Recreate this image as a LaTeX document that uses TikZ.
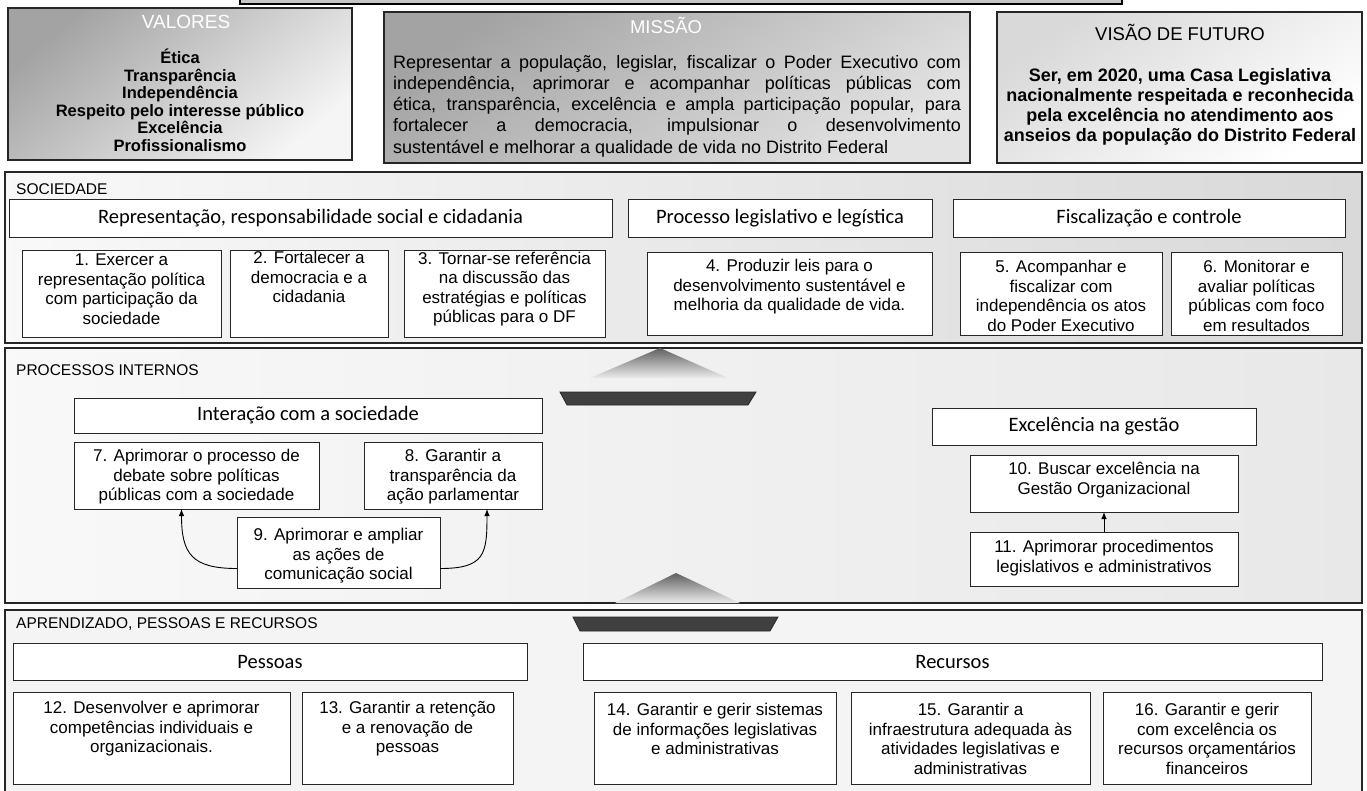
\documentclass[tikz,border=0pt]{standalone}
\usepackage{fontspec}
\setmainfont{Liberation Sans}
\newfontfamily\carlito{Carlito}
\usetikzlibrary{arrows.meta}
\newcommand\mybox[7]{\node[#6, anchor=north west, inner sep=0pt, outer sep=0pt, minimum width={(#4-#2)*1pt}, minimum height={(#5-#3)*1pt}] (#1) at (#2,#3) {#7};}
\begin{document}
\begin{tikzpicture}[x=1pt,y=-1pt,
 sec/.style={draw=black!85, line width=1.3pt},
 topbox/.style={draw=black!85, line width=1.1pt},
 hdr/.style={draw=black!85, fill=white, line width=1pt, font=\carlito\fontsize{20.5}{24}\selectfont},
 obj/.style={draw=black!85, fill=white, line width=1pt},
 otxt/.style={align=center, inner sep=0pt, font=\fontsize{17}{19.5}\selectfont},
 slbl/.style={anchor=west, inner sep=0pt, font=\fontsize{15.5}{18}\selectfont},
 ttl/.style={inner sep=0pt, font=\fontsize{18.5}{22}\selectfont},
 conn/.style={-{Latex[length=7pt,width=5.5pt]}, line width=0.9pt},
 tri/.style={top color=gray!75!black, bottom color=gray!15},
 bar/.style={fill=gray!50!black, draw=black!85, line width=0.8pt}]

\useasboundingbox (0,0) rectangle (1367,790);
\fill[white] (0,0) rectangle (1367,790);

% partial box at the top edge
\draw[line width=1.2pt, fill=gray!45] (240,-6) rectangle (1122,4);

% ---- top row ----
\mybox{val}{8}{8}{352}{160}{topbox, top color=gray!72, bottom color=gray!8, shading angle=40}{}
\node[ttl, font=\fontsize{19}{22}\selectfont, text=white] (valt) at (186,22) {VALORES};
\node[align=center, inner sep=0pt, font=\bfseries\fontsize{16.5}{17.5}\selectfont] (valx) at (180,100.5)
 {Ética\\Transparência\\Independência\\Respeito pelo interesse público\\Excelência\\Profissionalismo};

\mybox{mis}{384}{12}{970}{163}{topbox, top color=gray!72, bottom color=gray!22, shading angle=35}{}
\node[ttl, text=white] (mist) at (666,25) {MISSÃO};
\node[text width=568pt, align=justify, inner sep=0pt, font=\fontsize{18}{21.2}\selectfont] (misx) at (677,106)
 {Representar a população, legislar, fiscalizar o Poder Executivo com\linebreak
  independência, aprimorar e acompanhar políticas públicas com\linebreak
  ética, transparência, excelência e ampla participação popular, para\linebreak
  fortalecer a democracia, impulsionar o desenvolvimento\linebreak
  sustentável e melhorar a qualidade de vida no Distrito Federal};

\mybox{vis}{997}{12}{1362}{163}{topbox, top color=gray!30, bottom color=white, shading angle=35}{}
\node[ttl] (vist) at (1180,32) {VISÃO DE FUTURO};
\node[align=center, inner sep=0pt, font=\bfseries\fontsize{18}{20}\selectfont] (visx) at (1180,107)
 {Ser, em 2020, uma Casa Legislativa\\nacionalmente respeitada e reconhecida\\pela excelência no atendimento aos\\anseios da população do Distrito Federal};

% ---- SOCIEDADE ----
\mybox{soc}{5}{172}{1362}{343}{sec, left color=gray!5, right color=gray!30}{}
\node[slbl] (socl) at (16,189) {SOCIEDADE};
\mybox{h1}{9}{199}{612}{237}{hdr}{Representação, responsabilidade social e cidadania}
\mybox{h2}{628}{199}{932}{237}{hdr}{Processo legislativo e legística}
\mybox{h3}{953}{199}{1345}{237}{hdr}{Fiscalização e controle}
\mybox{b1}{22}{250}{221}{337}{obj}{}
\mybox{b2}{230}{250}{388}{337}{obj}{}
\mybox{b3}{404}{250}{605}{337}{obj}{}
\mybox{b4}{647}{252}{932}{335}{obj}{}
\mybox{b5}{960}{252}{1162}{335}{obj}{}
\mybox{b6}{1171}{252}{1342}{335}{obj}{}
\node[otxt] (t1) at (121.5,289) {1. Exercer a\\representação política\\com participação da\\sociedade};
\node[otxt] (t2) at (309,277) {2. Fortalecer a\\democracia e a\\cidadania};
\node[otxt] (t3) at (504.5,289) {3. Tornar-se referência\\na discussão das\\estratégias e políticas\\públicas para o DF};
\node[otxt] (t4) at (789.5,287) {4. Produzir leis para o\\desenvolvimento sustentável e\\melhoria da qualidade de vida.};
\node[otxt] (t5) at (1061,296) {5. Acompanhar e\\fiscalizar com\\independência os atos\\do Poder Executivo};
\node[otxt] (t6) at (1256.5,296) {6. Monitorar e\\avaliar políticas\\públicas com foco\\em resultados};

% ---- PROCESSOS INTERNOS ----
\mybox{proc}{5}{348}{1362}{603}{sec, left color=gray!5, right color=gray!18}{}
\node[slbl] (procl) at (16,370) {PROCESSOS INTERNOS};
\mybox{h4}{74}{398}{542}{433}{hdr}{Interação com a sociedade}
\mybox{b7}{74}{442}{319}{509}{obj}{}
\mybox{b8}{364}{442}{542}{509}{obj}{}
\mybox{b9}{237}{517}{440}{588}{obj}{}
\node[otxt] (t7) at (196.5,477) {7. Aprimorar o processo de\\debate sobre políticas\\públicas com a sociedade};
\node[otxt] (t8) at (453,477) {8. Garantir a\\transparência da\\ação parlamentar};
\node[otxt] (t9) at (338.5,556) {9. Aprimorar e ampliar\\as ações de\\comunicação social};
\mybox{h5}{932}{408}{1256}{445}{hdr}{Excelência na gestão}
\mybox{b10}{970}{455}{1238}{512}{obj}{}
\mybox{b11}{970}{532}{1238}{586}{obj}{}
\node[otxt] (t10) at (1104,480) {10. Buscar excelência na\\Gestão Organizacional};
\node[otxt] (t11) at (1104,558) {11. Aprimorar procedimentos\\legislativos e administrativos};
\draw[conn] ([yshift=-16pt]b9.west) .. controls +(-45,0) and +(0,45) .. ([xshift=-15pt]b7.south);
\draw[conn] ([yshift=-16pt]b9.east) .. controls +(45,0) and +(0,45) .. ([xshift=34pt]b8.south);
\draw[conn] (b11.north) -- (b10.south);

% ---- APRENDIZADO, PESSOAS E RECURSOS ----
\mybox{apr}{5}{610}{1362}{795}{sec, fill=gray!9}{}
\node[slbl] (aprl) at (16,624) {APRENDIZADO, PESSOAS E RECURSOS};
\mybox{h6}{13}{643}{527}{680}{hdr}{Pessoas}
\mybox{h7}{583}{643}{1322}{680}{hdr}{Recursos}
\mybox{b12}{13}{692}{290}{784}{obj}{}
\mybox{b13}{302}{692}{513}{784}{obj}{}
\mybox{b14}{594}{692}{836}{784}{obj}{}
\mybox{b15}{851}{692}{1090}{784}{obj}{}
\mybox{b16}{1103}{692}{1311}{784}{obj}{}
\node[otxt] (t12) at (151.5,729) {12. Desenvolver e aprimorar\\competências individuais e\\organizacionais.};
\node[otxt] (t13) at (407.5,729) {13. Garantir a retenção\\e a renovação de\\pessoas};
\node[otxt] (t14) at (715,729) {14. Garantir e gerir sistemas\\de informações legislativas\\e administrativas};
\node[otxt] (t15) at (970.5,739) {15. Garantir a\\infraestrutura adequada às\\atividades legislativas e\\administrativas};
\node[otxt] (t16) at (1207,739) {16. Garantir e gerir\\com excelência os\\recursos orçamentários\\financeiros};

% ---- upward markers between the layers ----
\shade[tri] (660,348) -- (728,378) -- (590,378) -- cycle;
\filldraw[bar] (560,392) -- (756,392) -- (748,405) -- (567,405) -- cycle;
\shade[tri] (676,573) -- (740,603) -- (615,603) -- cycle;
\filldraw[bar] (573,617) -- (778,617) -- (770,631) -- (580,631) -- cycle;
\end{tikzpicture}
\end{document}
